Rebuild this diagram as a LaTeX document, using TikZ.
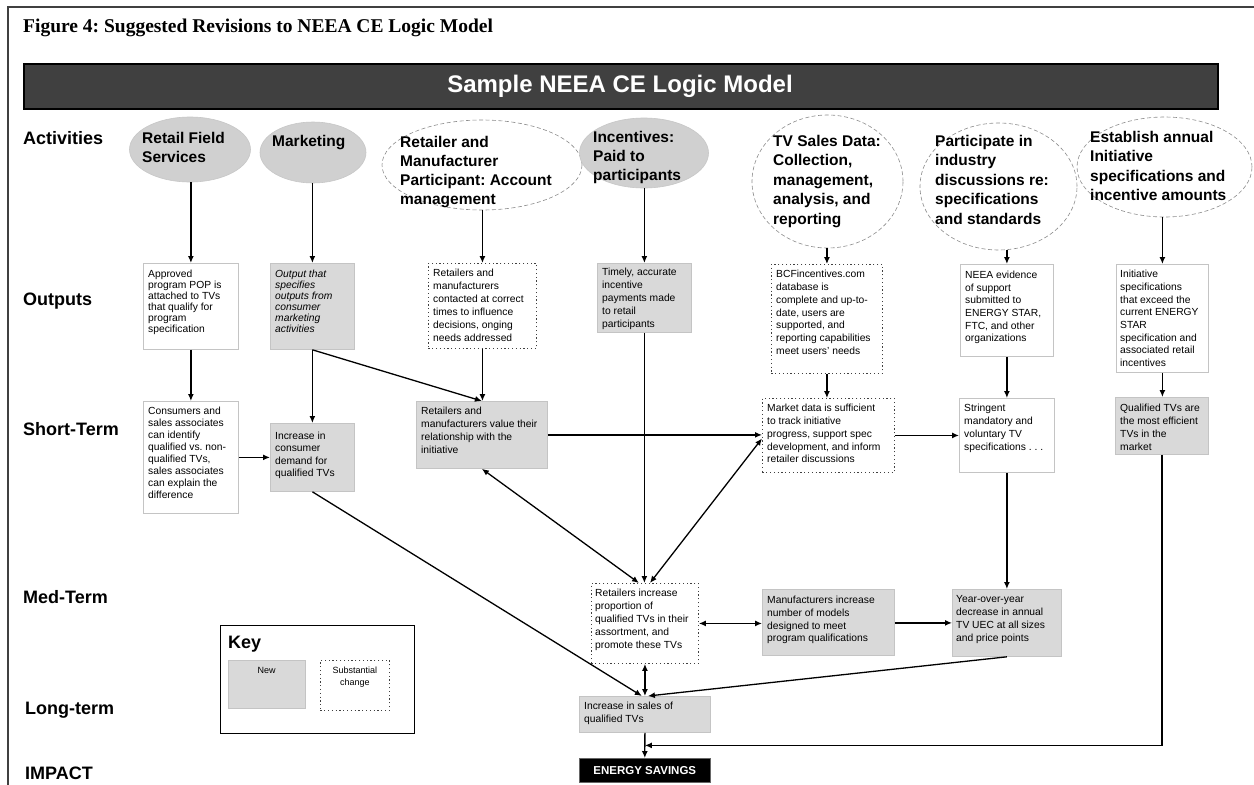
\documentclass[tikz,border=0pt]{standalone}
\usepackage{fontspec}
\setmainfont{Liberation Sans}
\newfontfamily\figtitlefont{Liberation Serif}
\usetikzlibrary{arrows.meta,shapes.geometric,calc}
\definecolor{newgray}{HTML}{D9D9D9}
\definecolor{edgegray}{HTML}{C4C4C4}
\definecolor{ovalgray}{HTML}{D0D0D0}
\definecolor{bannergray}{HTML}{404040}
\frenchspacing
\begin{document}
\begin{tikzpicture}[x=1pt,y=-1pt,
  every node/.style={inner sep=0pt},
  newbox/.style={rectangle, draw=edgegray, fill=newgray, line width=0.8pt, anchor=north west},
  plainbox/.style={rectangle, draw=edgegray, fill=white, line width=0.8pt, anchor=north west},
  chgbox/.style={rectangle, draw=black!75, fill=white, line width=0.9pt, dash pattern=on 1.2pt off 2.6pt, anchor=north west},
  btxt/.style={anchor=north west, align=left, font=\fontsize{10.3}{12.8}\selectfont},
  tightbtxt/.style={btxt, font=\fontsize{10.3}{11}\selectfont},
  acttxt/.style={anchor=north west, align=left, font=\bfseries\fontsize{15.5}{19.5}\selectfont},
  grayoval/.style={ellipse, fill=ovalgray, draw=black!22, line width=0.6pt},
  whiteoval/.style={ellipse, draw=black!45, dash pattern=on 4pt off 2.5pt, line width=0.6pt},
  rowlbl/.style={anchor=base west, font=\bfseries\fontsize{18}{21}\selectfont},
  arr/.style={-{Latex[length=7pt,width=6pt]}, line width=1.3pt},
  darr/.style={{Latex[length=7pt,width=6pt]}-{Latex[length=7pt,width=6pt]}, line width=1.3pt},
]
\useasboundingbox (0,0) rectangle (1254,785);
\fill[white] (0,0) rectangle (1254,785);

% outer frame and heading
\draw[black!75, line width=1.5pt] (8,785) -- (8,7) -- (1254,7);
\node[anchor=base west, font=\figtitlefont\bfseries\fontsize{19.5}{22}\selectfont] (title) at (23,32)
  {Figure 4: Suggested Revisions to NEEA CE Logic Model};
\node[rectangle, anchor=north west, minimum width=1194, minimum height=45, fill=bannergray, draw=black, line width=2pt] (banner) at (23,63) {};
\node[text=white, font=\bfseries\fontsize{24}{28}\selectfont] (bannertxt) at (620,86) {Sample NEEA CE Logic Model};

% row labels
\node[rowlbl] (rAct) at (23,144.5) {Activities};
\node[rowlbl] (rOut) at (23,305.5) {Outputs};
\node[rowlbl] (rST) at (23,435.5) {Short-Term};
\node[rowlbl] (rMT) at (23,603.5) {Med-Term};
\node[rowlbl] (rLT) at (25,714.5) {Long-term};
\node[rowlbl] (rImp) at (25,779.5) {IMPACT};

% activities
\node[grayoval, minimum width=121, minimum height=65] (e1) at (190,149.5) {};
\node[grayoval, minimum width=106, minimum height=61] (e2) at (313,152.5) {};
\node[whiteoval, minimum width=200, minimum height=90] (e3) at (482,165) {};
\node[grayoval, minimum width=129, minimum height=70] (e4) at (644,153) {};
\node[whiteoval, minimum width=151, minimum height=133] (e5) at (827.5,181.5) {};
\node[whiteoval, minimum width=157, minimum height=127] (e6) at (998.5,186.5) {};
\node[whiteoval, minimum width=175, minimum height=100] (e7) at (1164.5,167) {};

\node[acttxt] (e1t) at (142,132) {Retail Field\\Services};
\node[acttxt] (e2t) at (272,135) {Marketing};
\node[acttxt, font=\bfseries\fontsize{15.5}{19}\selectfont] (e3t) at (400,136) {Retailer and\\Manufacturer\\Participant: Account\\management};
\node[acttxt, font=\bfseries\fontsize{15.5}{18.7}\selectfont] (e4t) at (593,131.5) {Incentives:\\Paid to\\participants};
\node[acttxt] (e5t) at (773,135) {TV Sales Data:\\Collection,\\management,\\analysis, and\\reporting};
\node[acttxt] (e6t) at (935,135) {Participate in\\industry\\discussions re:\\specifications\\and standards};
\node[acttxt] (e7t) at (1090,131) {Establish annual\\Initiative\\specifications and\\incentive amounts};

% outputs
\node[plainbox, minimum width=95, minimum height=86] (o1) at (143,263) {};
\node[newbox, minimum width=84, minimum height=86] (o2) at (270,263) {};
\node[chgbox, minimum width=108, minimum height=85] (o3) at (428,263) {};
\node[newbox, minimum width=94, minimum height=69] (o4) at (597,263) {};
\node[chgbox, minimum width=111, minimum height=109] (o5) at (771,264) {};
\node[plainbox, minimum width=93, minimum height=92] (o6) at (960,264) {};
\node[plainbox, minimum width=92, minimum height=108] (o7) at (1116,264) {};

\node[tightbtxt] (o1t) at (148,270) {Approved\\program POP is\\attached to TVs\\that qualify for\\program\\specification};
\node[tightbtxt, font=\itshape\fontsize{10.3}{11}\selectfont] (o2t) at (275,270) {Output that\\specifies\\outputs from\\consumer\\marketing\\activities};
\node[btxt, font=\fontsize{10.3}{13}\selectfont] (o3t) at (433,269) {Retailers and\\manufacturers\\contacted at correct\\times to influence\\decisions, onging\\needs addressed};
\node[btxt, font=\fontsize{10.3}{13}\selectfont] (o4t) at (602,268) {Timely, accurate\\incentive\\payments made\\to retail\\participants};
\node[btxt] (o5t) at (776,270) {BCFincentives.com\\database is\\complete and up-to-\\date, users are\\supported, and\\reporting capabilities\\meet users' needs};
\node[btxt, font=\fontsize{10.3}{12.6}\selectfont] (o6t) at (965,271) {NEEA evidence\\of support\\submitted to\\ENERGY STAR,\\FTC, and other\\organizations};
\node[btxt, font=\fontsize{10.3}{12.7}\selectfont] (o7t) at (1120,270) {Initiative\\specifications\\that exceed the\\current ENERGY\\STAR\\specification and\\associated retail\\incentives};

% short-term outcomes
\node[plainbox, minimum width=95, minimum height=112] (s1) at (143,401) {};
\node[newbox, minimum width=84, minimum height=68] (s2) at (270,423) {};
\node[newbox, minimum width=131, minimum height=67] (s3) at (416,401) {};
\node[chgbox, minimum width=132, minimum height=74] (s5) at (762,398) {};
\node[plainbox, minimum width=95, minimum height=74] (s6) at (959,398) {};
\node[newbox, minimum width=93, minimum height=57] (s7) at (1115,397) {};

\node[btxt, font=\fontsize{10.3}{12}\selectfont] (s1t) at (148,407) {Consumers and\\sales associates\\can identify\\qualified vs. non-\\qualified TVs,\\sales associates\\can explain the\\difference};
\node[btxt, font=\fontsize{10.3}{12.3}\selectfont] (s2t) at (275,432) {Increase in\\consumer\\demand for\\qualified TVs};
\node[btxt] (s3t) at (421,407) {Retailers and\\manufacturers value their\\relationship with the\\initiative};
\node[btxt] (s5t) at (767,404) {Market data is sufficient\\to track initiative\\progress, support spec\\development, and inform\\retailer discussions};
\node[btxt] (s6t) at (964,404) {Stringent\\mandatory and\\voluntary TV\\specifications . . .};
\node[btxt] (s7t) at (1120,404) {Qualified TVs are\\the most efficient\\TVs in the\\market};

% medium-term, long-term and impact
\node[chgbox, minimum width=107, minimum height=80] (m1) at (591,583) {};
\node[newbox, minimum width=132, minimum height=66] (m2) at (762,589) {};
\node[newbox, minimum width=109, minimum height=67] (m3) at (952,589) {};
\node[newbox, minimum width=131, minimum height=36] (l1) at (579,696) {};
\node[rectangle, anchor=north west, minimum width=131, minimum height=24, fill=black, draw=black!60, line width=0.6pt] (es) at (579,758) {};

\node[btxt, font=\fontsize{10.3}{13}\selectfont] (m1t) at (595,589) {Retailers increase\\proportion of\\qualified TVs in their\\assortment, and\\promote these TVs};
\node[btxt, font=\fontsize{10.3}{12.7}\selectfont] (m2t) at (767,596) {Manufacturers increase\\number of models\\designed to meet\\program qualifications};
\node[btxt, font=\fontsize{10.3}{13}\selectfont] (m3t) at (956,595) {Year-over-year\\decrease in annual\\TV UEC at all sizes\\and price points};
\node[btxt, font=\fontsize{10.3}{13}\selectfont] (l1t) at (584,702) {Increase in sales of\\qualified TVs};
\node[text=white, font=\bfseries\fontsize{11.5}{13}\selectfont] (est) at (es.center) {ENERGY SAVINGS};

% key
\node[rectangle, anchor=north west, minimum width=194, minimum height=108, draw=black, line width=1.3pt] (key) at (220,625) {};
\node[anchor=base west, font=\bfseries\fontsize{18}{21}\selectfont] (keyt) at (228,648) {Key};
\node[newbox, minimum width=77.5, minimum height=48] (knew) at (227.5,660) {};
\node[chgbox, minimum width=69, minimum height=50] (kchg) at (320,660) {};
\node[anchor=north, font=\fontsize{9}{11}\selectfont] (knewt) at ([yshift=-7pt]knew.north) {New};
\node[anchor=north, align=center, font=\fontsize{9}{12}\selectfont] (kchgt) at ([yshift=-7pt]kchg.north) {Substantial\\change};

% activities to outputs
\draw[arr] (e1.south -| o1.north) -- (o1.north);
\draw[arr] (e2.south -| o2.north) -- (o2.north);
\draw[arr] (e3.south -| o3.north) -- (o3.north);
\draw[arr] (e4.south -| o4.north) -- (o4.north);
\draw[arr] (e5.south -| o5.north) -- (o5.north);
\draw[arr] (e6.south -| o6.north) -- (o6.north);
\draw[arr] (e7.south -| o7.north) -- (o7.north);

% outputs to short-term outcomes
\draw[arr] (o1.south) -- (o1.south |- s1.north);
\draw[arr] (o2.south) -- (o2.south |- s2.north);
\draw[arr] (o2.south) -- (s3.north);
\draw[arr] (o3.south) -- (o3.south |- s3.north);
\draw[arr] (o5.south) -- (o5.south |- s5.north);
\draw[arr] (o6.south) -- (o6.south |- s6.north);
\draw[arr] (o7.south) -- (o7.south |- s7.north);
\draw[arr] (o4.south) -- (o4.south |- m1.north);

% short-term links
\draw[arr] (s1.east |- s2.west) -- (s2.west);
\draw[arr] (s3.east) -- (s3.east -| s5.west);
\draw[arr] (s5.east) -- (s5.east -| s6.west);
\draw[darr] (s3.south) -- ([xshift=-6pt]m1.north);
\draw[darr] ([xshift=5pt]m1.north) -- ([yshift=-3pt]s5.west);
\draw[arr] (s6.south) -- (s6.south |- m3.north);
\draw[arr] (s2.south) -- ([xshift=-3pt]l1.north);

% medium and long-term links
\draw[darr] (m1.east) -- (m1.east -| m2.west);
\draw[arr] (m2.east |- m3.west) -- (m3.west);
\draw[darr] (m1.south) -- (m1.south |- l1.north);
\draw[arr] (m3.south) -- ([xshift=3pt]l1.north);
\draw[arr] (l1.south) -- (es.north);
\coordinate (imp) at ($(l1.south)!0.5!(es.north)$);
\draw[arr] (s7.south) |- (imp);
\end{tikzpicture}
\end{document}
